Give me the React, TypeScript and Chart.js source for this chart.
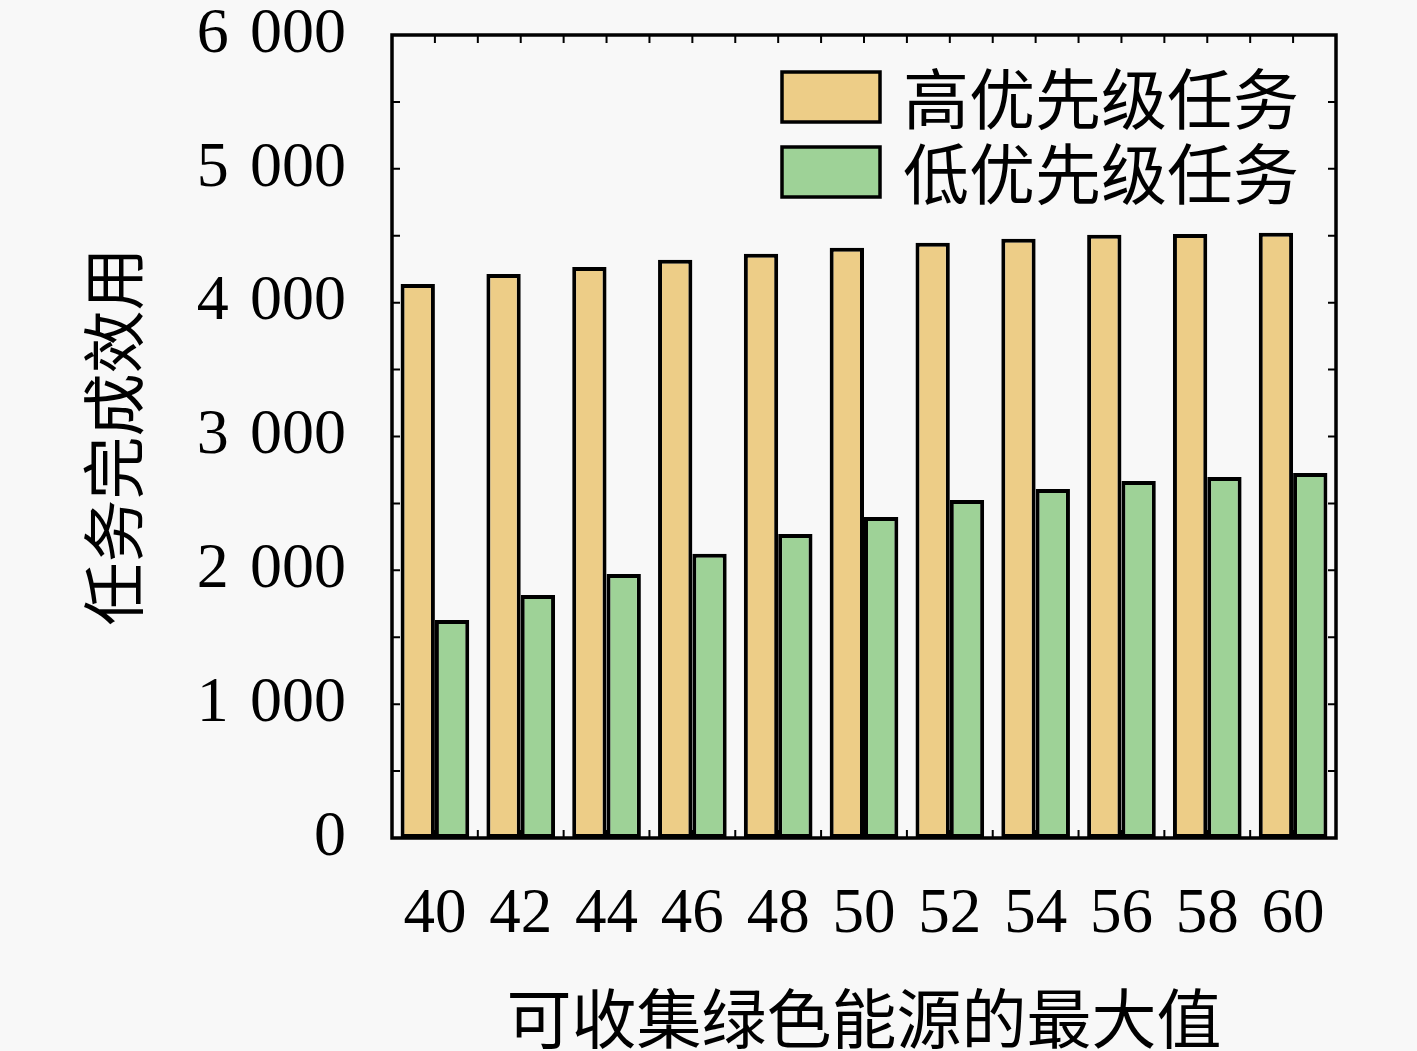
import React, { useEffect, useRef } from "react";
import { Chart, registerables } from "chart.js";

Chart.register(...registerables);

const categories = ["40", "42", "44", "46", "48", "50", "52", "54", "56", "58", "60"];
const highPriority = [4140, 4215, 4267, 4320, 4365, 4410, 4447, 4477, 4507, 4514, 4522];
const lowPriority = [1629, 1816, 1973, 2123, 2272, 2399, 2526, 2608, 2668, 2698, 2728];
const seriesNames = ["高优先级任务", "低优先级任务"];
const yTicks = [0, 1000, 2000, 3000, 4000, 5000, 6000];
const xTitle = "可收集绿色能源的最大值";
const yTitle = "任务完成效用";

const ORANGE = "#EDCD87";
const GREEN = "#9ED297";
const BG = "#F8F8F8";
const CJK = "'Noto Sans CJK SC', 'Noto Sans', sans-serif";
const SERIF = "'Liberation Serif', 'DejaVu Serif', serif";

const fmt = (v: number) => {
  if (v < 1000) return String(v);
  const s = String(v);
  return s.slice(0, s.length - 3) + "\u2004" + s.slice(s.length - 3);
};

const framePlugin = {
  id: "frame",
  beforeDraw(chart: any) {
    const ctx = chart.ctx;
    ctx.save();
    ctx.fillStyle = BG;
    ctx.fillRect(0, 0, chart.width, chart.height);
    ctx.restore();
  },
  afterDatasetsDraw(chart: any) {
    const { ctx, chartArea } = chart;
    const { left, right, top, bottom } = chartArea;
    const x = chart.scales.x;
    const y = chart.scales.y;
    ctx.save();
    ctx.strokeStyle = "#000";
    ctx.lineWidth = 2;
    const tl = 8;
    for (let v = 0; v <= 6000; v += 500) {
      const py = y.getPixelForValue(v);
      ctx.beginPath();
      ctx.moveTo(left, py);
      ctx.lineTo(left + tl, py);
      ctx.moveTo(right, py);
      ctx.lineTo(right - tl, py);
      ctx.stroke();
    }
    for (let i = 0; i < categories.length; i++) {
      const c = x.getPixelForValue(i);
      const pts = [c];
      if (i < categories.length - 1) pts.push((c + x.getPixelForValue(i + 1)) / 2);
      for (const px of pts) {
        ctx.beginPath();
        ctx.moveTo(px, top);
        ctx.lineTo(px, top + tl);
        ctx.moveTo(px, bottom);
        ctx.lineTo(px, bottom - tl);
        ctx.stroke();
      }
    }
    ctx.lineWidth = 3.5;
    ctx.strokeRect(left, top, right - left, bottom - top);

    const ds = chart.data.datasets;
    const boxX = 782, boxW = 98, boxH = 50;
    const rows = [97, 172];
    ctx.font = `66px ${CJK}`;
    ctx.textBaseline = "middle";
    ctx.textAlign = "left";
    ds.forEach((d: any, i: number) => {
      const cy = rows[i];
      ctx.fillStyle = d.backgroundColor;
      ctx.fillRect(boxX, cy - boxH / 2, boxW, boxH);
      ctx.lineWidth = 3.5;
      ctx.strokeStyle = "#000";
      ctx.strokeRect(boxX, cy - boxH / 2, boxW, boxH);
      ctx.fillStyle = "#000";
      ctx.fillText(d.label, 903, cy + 2);
    });
    ctx.restore();
  },
};

export default function App() {
  const ref = useRef<HTMLCanvasElement | null>(null);
  useEffect(() => {
    if (!ref.current) return;
    const chart = new Chart(ref.current, {
      type: "bar",
      data: {
        labels: categories,
        datasets: [
          {
            label: seriesNames[0],
            data: highPriority,
            backgroundColor: ORANGE,
            borderColor: "#000",
            borderWidth: 4,
            borderSkipped: false,
            categoryPercentage: 0.8,
            barPercentage: 1.0,
          },
          {
            label: seriesNames[1],
            data: lowPriority,
            backgroundColor: GREEN,
            borderColor: "#000",
            borderWidth: 4,
            borderSkipped: false,
            categoryPercentage: 0.8,
            barPercentage: 1.0,
          },
        ],
      },
      options: {
        animation: false,
        responsive: false,
        devicePixelRatio: 1,
        layout: { padding: { left: 0, right: 81, top: 35, bottom: 0 } },
        plugins: { legend: { display: false }, tooltip: { enabled: false } },
        scales: {
          x: {
            grid: { display: false, drawTicks: false },
            border: { display: false },
            ticks: {
              color: "#000",
              font: { family: SERIF, size: 63 },
              padding: 40,
              maxRotation: 0,
              autoSkip: false,
            },
            title: {
              display: true,
              text: xTitle,
              color: "#000",
              font: { family: CJK, size: 65, lineHeight: 1 },
              padding: { top: 0, bottom: 0 },
            },
            afterFit(scale: any) {
              scale.height = 213;
              scale.paddingLeft = 0;
              scale.paddingRight = 0;
            },
          },
          y: {
            min: 0,
            max: 6000,
            afterBuildTicks(scale: any) {
              scale.ticks = yTicks.map((v) => ({ value: v }));
            },
            grid: { display: false, drawTicks: false },
            border: { display: false },
            ticks: {
              color: "#000",
              font: { family: SERIF, size: 64 },
              padding: 46,
              callback: (v: any) => fmt(Number(v)),
            },
            title: {
              display: true,
              text: yTitle,
              color: "#000",
              font: { family: CJK, size: 63, lineHeight: 1 },
              padding: { top: 82, bottom: 0 },
            },
            afterFit(scale: any) {
              scale.width = 392;
              scale.paddingTop = 0;
              scale.paddingBottom = 0;
            },
          },
        },
      },
      plugins: [framePlugin],
    });
    return () => chart.destroy();
  }, []);
  return (
    <div style={{ position: "absolute", left: 0, top: 0, width: 1417, height: 1051, background: BG }}>
      <canvas ref={ref} width={1417} height={1051} style={{ width: 1417, height: 1051, display: "block" }} />
    </div>
  );
}
